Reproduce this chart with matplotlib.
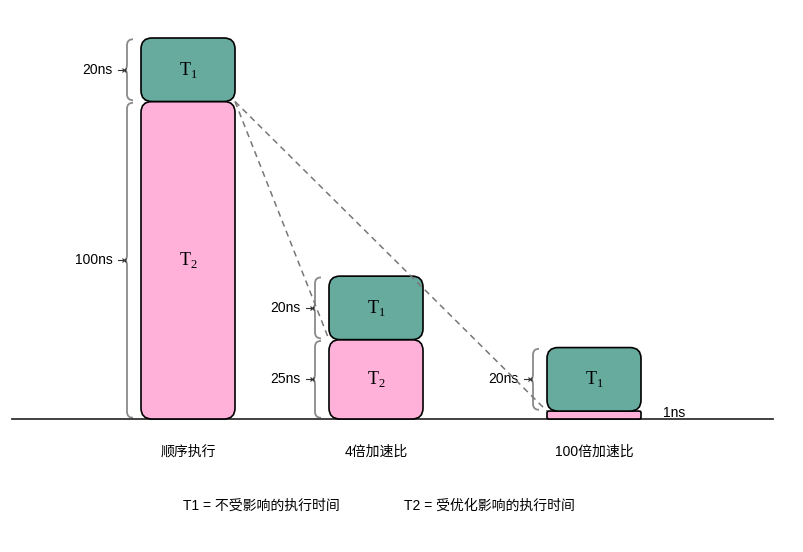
import matplotlib
matplotlib.use("Agg")
import matplotlib.pyplot as plt
from matplotlib.patches import FancyBboxPatch, PathPatch
from matplotlib.path import Path

# data (ns)
categories = ["顺序执行", "4倍加速比", "100倍加速比"]
t1_values = [20, 20, 20]
t2_values = [100, 25, 1]
t1_labels = ["20ns", "20ns", "20ns"]
t2_labels = ["100ns", "25ns", "1ns"]
legend_texts = ["T1 = 不受影响的执行时间", "T2 = 受优化影响的执行时间"]

plt.rcParams['font.family'] = ['Liberation Sans', 'Noto Sans CJK SC']
plt.rcParams['mathtext.fontset'] = 'custom'
plt.rcParams['mathtext.rm'] = 'Liberation Serif'

PX = 3.175      # pixels per ns
BASE = 419      # baseline pixel row
fig = plt.figure(figsize=(8.04, 5.52), dpi=100)
ax = fig.add_axes([0, 0, 1, 1])
ax.set_xlim(0, 804)
ax.set_ylim(-(552 - BASE) / PX, BASE / PX)
ax.axis('off')

centers = [188, 376, 594]
bar_w = 94
min_h = 2.5
green = '#67AB9F'
pink = '#FFB1DA'


def box(x0, y0, h, color):
    r = min(11, h * PX * 0.2)
    p = FancyBboxPatch((x0, y0), bar_w, h,
                       boxstyle="round,pad=0,rounding_size=%.2f" % r,
                       mutation_aspect=1 / PX, fc=color, ec='black', lw=1.2, zorder=2)
    ax.add_patch(p)


def brace(x, y0, y1, label):
    w = 6
    h = 6 / PX
    ym = (y0 + y1) / 2
    verts = [(x + w, y1), (x, y1), (x, y1 - h),
             (x, ym + h), (x, ym), (x - 2, ym), (x, ym), (x, ym - h),
             (x, y0 + h), (x, y0), (x + w, y0)]
    codes = [Path.MOVETO, Path.CURVE3, Path.CURVE3,
             Path.LINETO, Path.CURVE3, Path.CURVE3, Path.CURVE3, Path.CURVE3,
             Path.LINETO, Path.CURVE3, Path.CURVE3]
    ax.add_patch(PathPatch(Path(verts, codes), fc='none', ec='#8a8a8a', lw=1.3))
    ax.plot([x - 9, x - 2], [ym, ym], color='#333333', lw=0.8)
    ax.plot([x - 3], [ym], marker='x', ms=3, mew=0.8, color='#333333')
    ax.text(x - 14, ym, label, ha='right', va='center', fontsize=10)


for i, cx in enumerate(centers):
    left = cx - bar_w / 2
    h2 = max(t2_values[i], min_h)
    box(left, 0, h2, pink)
    box(left, h2, t1_values[i], green)
    ax.text(cx, h2 + t1_values[i] / 2, r'$\mathrm{T}_1$', ha='center', va='center', fontsize=13)
    brace(left - 14, h2 + 0.4, h2 + t1_values[i] - 0.4, t1_labels[i])
    if t2_values[i] > min_h * 4:
        ax.text(cx, h2 / 2, r'$\mathrm{T}_2$', ha='center', va='center', fontsize=13)
        brace(left - 14, 0.4, h2 - 0.4, t2_labels[i])
    else:
        ax.text(left + bar_w + 22, h2 / 2 + 0.6, t2_labels[i], ha='left', va='center', fontsize=10)
    ax.text(cx, -10.4, categories[i], ha='center', va='center', fontsize=10)

# dashed guide lines
x_from = centers[0] + bar_w / 2
y_from = t2_values[0]
for i in (1, 2):
    ax.plot([x_from, centers[i] - bar_w / 2], [y_from, max(t2_values[i], min_h)],
            color='#777777', lw=1.1, ls=(0, (4, 3)), zorder=3)

# baseline
ax.plot([12, 773], [0, 0], color='#333333', lw=1.3, zorder=1)

ax.text(261, -27.4, legend_texts[0], ha='center', va='center', fontsize=10)
ax.text(489, -27.4, legend_texts[1], ha='center', va='center', fontsize=10)

fig.savefig('out.png', dpi=100)
